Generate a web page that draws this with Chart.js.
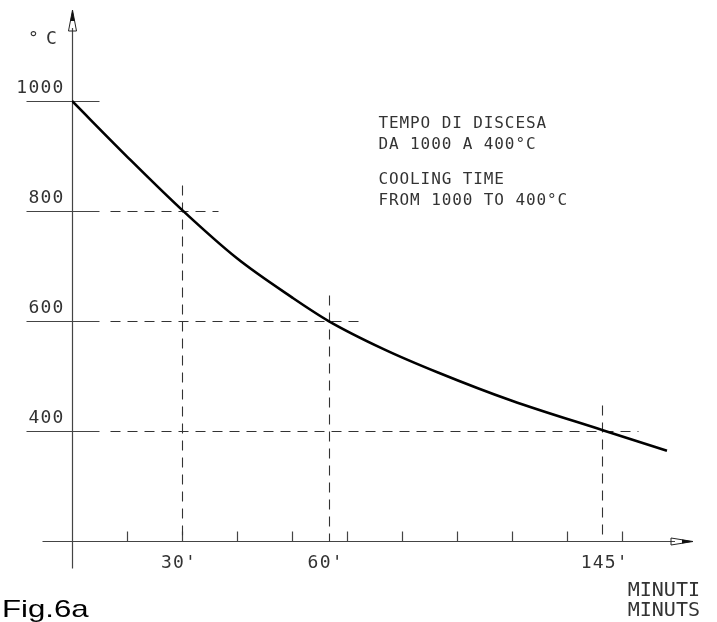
<!DOCTYPE html>
<html><head><meta charset="utf-8">
<script src="https://cdn.jsdelivr.net/npm/chart.js@4"></script>
<style>html,body{margin:0;padding:0;background:#fff}#wrap{position:relative;width:717px;height:622px}</style>
</head><body><div id="wrap"><canvas id="c" width="717" height="622"></canvas></div>
<script>
// ---- data ----
const minutes     = [0, 15, 30, 45, 60, 70, 85, 100, 120, 145, 162.3];
const temperature = [1000, 899, 802, 714, 643, 600, 549, 506, 455, 401, 364];
const yTickValues = [1000, 800, 600, 400];
const yTickLabels = ['1000', '800', '600', '400'];
const markerMinutes = [30, 70, 144.5];
const markerTemps   = [800, 600, 400];
const markerLabels  = ["30'", "60'", "145'"];
const minorTickMinutes = [15, 30, 45, 60, 75, 90, 105, 120, 135, 150];
const annotationLines = ['TEMPO DI DISCESA', 'DA 1000 A 400°C', 'COOLING TIME', 'FROM 1000 TO 400°C'];
const xAxisTitle = ['MINUTI', 'MINUTS'];
const yAxisUnit = ['°', 'C'];
const figCaption = 'Fig.6a';

const X_MIN = 0, X_MAX = 169.4, Y_MIN = 200, Y_MAX = 1165.5;

const MONO = '"DejaVu Sans Mono", monospace';
const INK = '#333';

const drawing = {
  id: 'drawing',
  beforeDatasetsDraw(chart) {
    const ctx = chart.ctx, xs = chart.scales.x, ys = chart.scales.y;
    const px = v => xs.getPixelForValue(v), py = v => ys.getPixelForValue(v);
    const x0 = Math.round(px(0)) + 0.5, yb = Math.round(py(Y_MIN)) + 0.5;
    ctx.save();
    ctx.strokeStyle = '#444'; ctx.lineWidth = 1.2; ctx.setLineDash([]);
    // axes
    ctx.beginPath();
    ctx.moveTo(x0, chart.chartArea.top + 18); ctx.lineTo(x0, yb + 27);
    ctx.moveTo(x0 - 30, yb); ctx.lineTo(chart.chartArea.right - 18, yb);
    ctx.stroke();
    // y tick marks (solid)
    ctx.beginPath();
    yTickValues.forEach(v => { const y = Math.round(py(v)) + 0.5; ctx.moveTo(x0 - 46, y); ctx.lineTo(x0 + 27, y); });
    // minor x ticks
    minorTickMinutes.forEach(m => { const x = Math.round(px(m)) + 0.5; ctx.moveTo(x, yb - 10); ctx.lineTo(x, yb); });
    ctx.stroke();
    // dashed guides
    ctx.strokeStyle = '#333'; ctx.lineWidth = 1.1; ctx.setLineDash([10, 7]);
    markerMinutes.forEach((m, i) => {
      const x = Math.round(px(m)) + 0.5, y = Math.round(py(markerTemps[i])) + 0.5;
      ctx.beginPath(); ctx.lineDashOffset = 0;
      ctx.moveTo(x0 + 38, y); ctx.lineTo(x + 36, y); ctx.stroke();
      ctx.beginPath();
      ctx.moveTo(x, y - 26); ctx.lineTo(x, yb); ctx.stroke();
    });
    ctx.setLineDash([]);
    // arrows
    const top = chart.chartArea.top, right = chart.chartArea.right;
    ctx.strokeStyle = '#222'; ctx.lineWidth = 1;
    ctx.beginPath(); ctx.moveTo(x0, top); ctx.lineTo(x0 - 4, top + 21); ctx.lineTo(x0 + 4, top + 21); ctx.closePath(); ctx.stroke();
    ctx.fillStyle = '#111';
    ctx.beginPath(); ctx.moveTo(x0, top); ctx.lineTo(x0 - 2.2, top + 11); ctx.lineTo(x0 + 2.2, top + 11); ctx.closePath(); ctx.fill();
    ctx.beginPath(); ctx.moveTo(right, yb); ctx.lineTo(right - 22, yb - 3.5); ctx.lineTo(right - 22, yb + 3.5); ctx.closePath(); ctx.stroke();
    ctx.beginPath(); ctx.moveTo(right, yb); ctx.lineTo(right - 11, yb - 2); ctx.lineTo(right - 11, yb + 2); ctx.closePath(); ctx.fill();

    // texts
    ctx.fillStyle = INK; ctx.textBaseline = 'alphabetic';
    ctx.font = '18px ' + MONO; ctx.letterSpacing = '1.2px';
    ctx.textAlign = 'right';
    yTickValues.forEach((v, i) => ctx.fillText(yTickLabels[i], x0 - 8, py(v) - 8.5));
    ctx.textAlign = 'left';
    markerMinutes.forEach((m, i) => ctx.fillText(markerLabels[i], px(m) - 21, yb + 26));
    ctx.textAlign = 'center'; ctx.letterSpacing = '0px';
    ctx.fillText(yAxisUnit[0], x0 - 39, top + 34);
    ctx.fillText(yAxisUnit[1], x0 - 21, top + 34);
    ctx.font = '16px ' + MONO; ctx.letterSpacing = '0.9px'; ctx.textAlign = 'left';
    const ax = px(83.6), baselines = [py(951), py(913), py(849), py(811)];
    annotationLines.forEach((t, i) => ctx.fillText(t, ax, baselines[i]));
    ctx.font = '20px ' + MONO; ctx.letterSpacing = '0px';
    ctx.fillText(xAxisTitle[0], px(151.6), yb + 54);
    ctx.fillText(xAxisTitle[1], px(151.6), yb + 74);
    ctx.fillStyle = '#000'; ctx.font = '24px "Liberation Sans", Arial, sans-serif';
    ctx.save(); ctx.translate(2, yb + 75); ctx.scale(1.3, 1);
    ctx.fillText(figCaption, 0, 0);
    ctx.restore();
    ctx.restore();
  }
};

new Chart(document.getElementById('c'), {
  type: 'line',
  data: {
    datasets: [{
      data: minutes.map((m, i) => ({ x: m, y: temperature[i] })),
      borderColor: '#000', borderWidth: 2.6, pointRadius: 0,
      cubicInterpolationMode: 'monotone', fill: false
    }]
  },
  options: {
    responsive: false, animation: false, devicePixelRatio: 1,
    layout: { padding: { left: 72, right: 24, top: 10, bottom: 81 } },
    plugins: { legend: { display: false }, tooltip: { enabled: false } },
    scales: {
      x: { type: 'linear', min: X_MIN, max: X_MAX, display: false },
      y: { type: 'linear', min: Y_MIN, max: Y_MAX, display: false }
    }
  },
  plugins: [drawing]
});
</script></body></html>
